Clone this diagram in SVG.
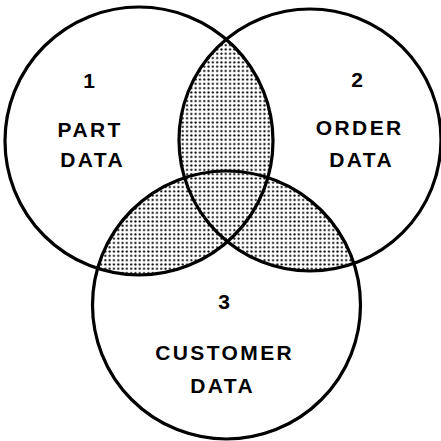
<svg xmlns="http://www.w3.org/2000/svg" width="441" height="441" viewBox="0 0 441 441">
  <style>
    .ring { fill: none; stroke: #000; stroke-width: 3.2; }
    .lbl { font-family: "Liberation Sans", Arial, sans-serif; font-weight: bold; font-size: 21px; fill: #000; text-anchor: middle; letter-spacing: 2.4px; }
    .num { font-family: "Liberation Sans", Arial, sans-serif; font-weight: bold; font-size: 21px; fill: #000; text-anchor: middle; }
  </style>
  <defs>
    <pattern id="dots" patternUnits="userSpaceOnUse" width="4.3" height="4.3">
      <circle cx="2.15" cy="2.15" r="1.1" fill="#000"/>
    </pattern>
    <clipPath id="clip1"><circle cx="139" cy="141" r="134"/></clipPath>
    <clipPath id="clip2"><circle cx="310" cy="140" r="131"/></clipPath>
    <clipPath id="shade">
      <circle cx="310" cy="140" r="131" clip-path="url(#clip1)"/>
      <circle cx="226.5" cy="305" r="134" clip-path="url(#clip1)"/>
      <circle cx="226.5" cy="305" r="134" clip-path="url(#clip2)"/>
    </clipPath>
  </defs>
  <rect width="441" height="441" fill="#fff"/>
  <g id="shading">
    <rect width="441" height="441" fill="url(#dots)" clip-path="url(#shade)"/>
  </g>
  <g id="node1">
    <circle class="ring" cx="139" cy="141" r="134"/>
    <text class="num" x="89" y="88">1</text>
    <text class="lbl" x="90.2" y="137">PART</text>
    <text class="lbl" x="92.7" y="167">DATA</text>
  </g>
  <g id="node2">
    <circle class="ring" cx="310" cy="140" r="131"/>
    <text class="num" x="357" y="87">2</text>
    <text class="lbl" x="359.7" y="135">ORDER</text>
    <text class="lbl" x="361.7" y="167">DATA</text>
  </g>
  <g id="node3">
    <circle class="ring" cx="226.5" cy="305" r="134"/>
    <text class="num" x="224" y="309">3</text>
    <text class="lbl" x="224.7" y="360">CUSTOMER</text>
    <text class="lbl" x="222.7" y="393">DATA</text>
  </g>
  <g id="connectors"></g>
</svg>
